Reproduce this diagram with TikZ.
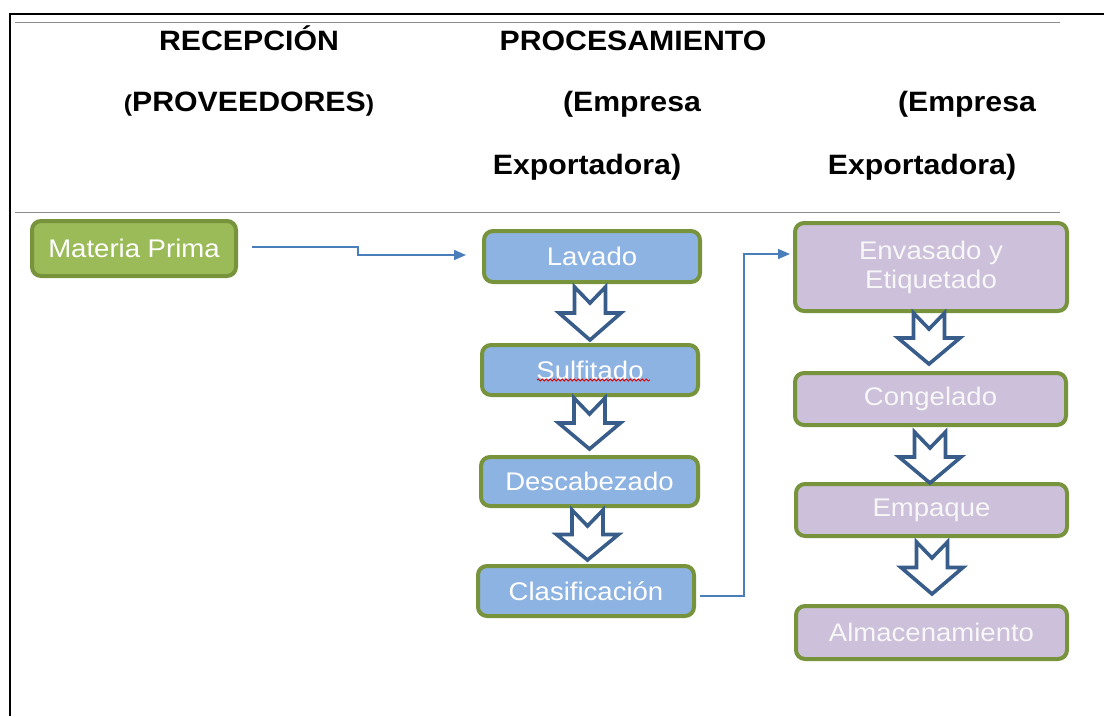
\documentclass[tikz,border=0pt]{standalone}
\usepackage{fontspec}
\setmainfont{Liberation Sans}[FakeStretch=1.08]
\usetikzlibrary{arrows.meta,decorations.pathmorphing}
\definecolor{grnfill}{HTML}{9BBB59}
\definecolor{olive}{HTML}{77933C}
\definecolor{bluefill}{HTML}{8DB3E2}
\definecolor{purpfill}{HTML}{CCC0DA}
\definecolor{arrblue}{HTML}{385D8A}
\definecolor{connblue}{HTML}{4A7EBB}
\newcommand\DownArr[3]{%
  \draw[fatarrow] (#1-15.5,#2) -- (#1,#2+16) -- (#1+15.5,#2) -- (#1+15.5,{#2+0.49*(#3-#2)})
    -- (#1+31,{#2+0.49*(#3-#2)}) -- (#1,#3) -- (#1-31,{#2+0.49*(#3-#2)})
    -- (#1-15.5,{#2+0.49*(#3-#2)}) -- cycle;}
\begin{document}
\begin{tikzpicture}[x=1pt,y=-1pt,
  box/.style={draw=olive,line width=4pt,rounded corners=9pt,align=center,
    font=\fontsize{25.5}{29}\selectfont,inner sep=0pt},
  gbox/.style={box,fill=grnfill,text=white},
  bbox/.style={box,fill=bluefill,text=white},
  pbox/.style={box,fill=purpfill,text=white!97!black},
  hdr/.style={anchor=base,font=\fontsize{28}{30}\selectfont\bfseries,inner sep=0pt},
  fatarrow/.style={draw=arrblue,line width=3.6pt,fill=white,line join=miter},
  conn/.style={draw=connblue,line width=1.6pt,-{Triangle[length=12pt,width=10pt]}},
  rule/.style={draw=black!45,line width=1pt}]
\useasboundingbox (0,0) rectangle (1104,716);
% frame
\draw[line width=2.5pt] (10,716) -- (10,14) -- (1104,14);
\draw[rule] (15,22) -- (1060,22);
\draw[rule] (15,212) -- (1060,212);
% headers
\node[hdr] (h1) at (249,50) {RECEPCIÓN};
\node[hdr] (h2) at (249,111) {{\fontsize{23}{24}\selectfont(}PROVEEDORES{\fontsize{23}{24}\selectfont)}};
\node[hdr] (h3) at (633,50) {PROCESAMIENTO};
\node[hdr] (h4) at (632,111) {(Empresa};
\node[hdr] (h5) at (587,174) {Exportadora)};
\node[hdr] (h6) at (967,111) {(Empresa};
\node[hdr] (h7) at (922,174) {Exportadora)};
% boxes
\node[gbox,minimum width=204pt,minimum height=55pt] (mp) at (134,248.5) {Materia Prima};
\node[bbox,minimum width=216pt,minimum height=51pt] (lav) at (592,256.5) {Lavado};
\node[bbox,minimum width=216pt,minimum height=50pt] (sul) at (590,370) {Sulfitado};
\node[bbox,minimum width=217pt,minimum height=49pt] (des) at (589.5,481.5) {Descabezado};
\node[bbox,minimum width=216pt,minimum height=50pt] (cla) at (586,591) {Clasificación};
\node[pbox,minimum width=272pt,minimum height=88pt] (env) at (931,267) {Envasado y\\Etiquetado};
\node[pbox,minimum width=271pt,minimum height=52pt] (con) at (930.5,399) {Congelado};
\node[pbox,minimum width=271pt,minimum height=52pt] (emp) at (931.5,510) {Empaque};
\node[pbox,minimum width=271pt,minimum height=53pt] (alm) at (931.5,632.5) {Almacenamiento};
% spell-check underline
\draw[red!85!black,line width=0.8pt,decorate,decoration={snake,amplitude=1pt,segment length=4pt}]
  (537,380) -- (650,380);
% block arrows
\DownArr{590}{287}{340}
\DownArr{589.5}{398}{449}
\DownArr{587.5}{510}{560}
\DownArr{929}{313}{364}
\DownArr{930}{432}{483}
\DownArr{932}{542}{594}
% connectors
\draw[conn] ([xshift=14pt,yshift=1.5pt]mp.east) -- ++(106pt,0pt) |- ([xshift=-16pt,yshift=1.5pt]lav.west);
\draw[conn] ([xshift=4pt,yshift=-5pt]cla.east) -- ++(44pt,0pt) |- ([xshift=-3pt,yshift=13pt]env.west);
\end{tikzpicture}
\end{document}
